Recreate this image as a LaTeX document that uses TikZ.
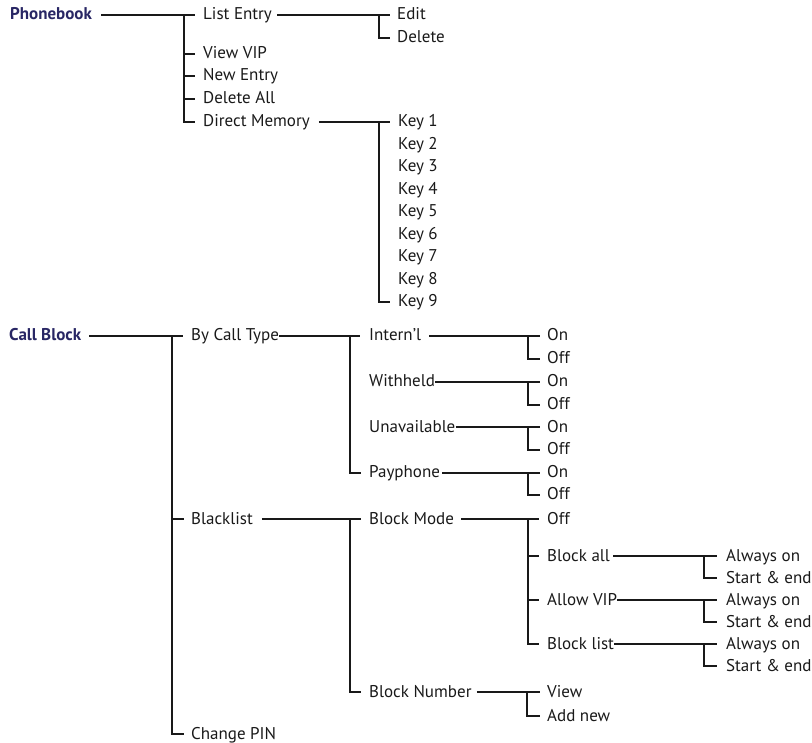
\documentclass[tikz,border=0pt]{standalone}
\usepackage{fontspec}
\setmainfont{PT Sans}
\definecolor{navy}{RGB}{40,38,100}
\definecolor{ink}{RGB}{25,25,25}
\begin{document}
\begin{tikzpicture}[x=1pt,y=-1pt,
 item/.style={anchor=west,inner sep=0pt,text height=13pt,text depth=3pt,font=\fontsize{17}{20}\selectfont,text=ink},
 head/.style={item,font=\fontsize{17}{20}\selectfont\bfseries,text=navy},
 conn/.style={draw=ink,line width=1.1pt}]
\useasboundingbox (0,0) rectangle (812,743);
% ---------- Phonebook ----------
\node[head] (pb) at (10,15) {Phonebook};
\node[item] (le) at (203,15) {List Entry};
\node[item] (vv) at (203,54) {View VIP};
\node[item] (ne) at (203,76) {New Entry};
\node[item] (da) at (203,99) {Delete All};
\node[item] (dm) at (203,122) {Direct Memory};
\node[item] (ed) at (397,15) {Edit};
\node[item] (de) at (397,38) {Delete};
\foreach \i in {1,...,9}{
  \node[item] (k\i) at (398,{122+22.5*(\i-1)}) {Key \i};
}
\draw[conn] ([xshift=9pt]pb.east) -- ([xshift=-8pt]le.west);
\draw[conn] ([xshift=-19pt]le.west) |- ([xshift=-8pt]dm.west);
\foreach \n in {vv,ne,da}{\draw[conn] ([xshift=-19pt]\n.west) -- ([xshift=-8pt]\n.west);}
\draw[conn] ([xshift=5pt]le.east) -- ([xshift=-7pt]ed.west);
\draw[conn] ([xshift=-18pt]ed.west) |- ([xshift=-7pt]de.west);
\draw[conn] ([xshift=9pt]dm.east) -- ([xshift=-8pt]k1.west);
\draw[conn] ([xshift=-19pt]k1.west) |- ([xshift=-8pt]k9.west);
% ---------- Call Block ----------
\node[head] (cb) at (9,336) {Call Block};
\node[item] (bct) at (191,336) {By Call Type};
\node[item] (bl) at (191,519) {Blacklist};
\node[item] (cp) at (191,734) {Change PIN};
\draw[conn] ([xshift=8pt]cb.east) -- ([xshift=-8pt]bct.west);
\draw[conn] ([xshift=-19pt]bct.west) |- ([xshift=-7pt]cp.west);
\draw[conn] ([xshift=-19pt]bl.west) -- ([xshift=-7pt]bl.west);
% By call type
\node[item] (in) at (369,336) {Intern’l};
\node[item] (wh) at (369,382) {Withheld};
\node[item] (un) at (369,427) {Unavailable};
\node[item] (pp) at (369,473) {Payphone};
\draw[conn] (bct.east) -- ([xshift=-9pt]in.west);
\draw[conn] ([xshift=-19pt]in.west) |- ([xshift=-8pt]pp.west);
\node[item] (on1) at (547,336) {On};
\node[item] (of1) at (547,359) {Off};
\node[item] (on2) at (547,382) {On};
\node[item] (of2) at (547,405) {Off};
\node[item] (on3) at (547,427) {On};
\node[item] (of3) at (547,450) {Off};
\node[item] (on4) at (547,473) {On};
\node[item] (of4) at (547,495) {Off};
\draw[conn] ([xshift=8pt]in.east) -- ([xshift=-7pt]on1.west);
\draw[conn] (wh.east) -- ([xshift=-7pt]on2.west);
\draw[conn] (un.east) -- ([xshift=-7pt]on3.west);
\draw[conn] ([xshift=2pt]pp.east) -- ([xshift=-7pt]on4.west);
\foreach \a/\b in {on1/of1,on2/of2,on3/of3,on4/of4}{
  \draw[conn] ([xshift=-19pt]\a.west) |- ([xshift=-7pt]\b.west);}
% Blacklist
\node[item] (bm) at (369,519) {Block Mode};
\node[item] (bn) at (369,692) {Block Number};
\draw[conn] ([xshift=9pt]bl.east) -- ([xshift=-8pt]bm.west);
\draw[conn] ([xshift=-19pt]bm.west) |- ([xshift=-8pt]bn.west);
\node[item] (bo) at (547,519) {Off};
\node[item] (ba) at (547,556) {Block all};
\node[item] (av) at (547,600) {Allow VIP};
\node[item] (bli) at (547,644) {Block list};
\draw[conn] ([xshift=7pt]bm.east) -- ([xshift=-8pt]bo.west);
\draw[conn] ([xshift=-19pt]bo.west) |- ([xshift=-8pt]bli.west);
\foreach \n in {ba,av}{\draw[conn] ([xshift=-19pt]\n.west) -- ([xshift=-8pt]\n.west);}
\node[item] (ao1) at (726,556) {Always on};
\node[item] (se1) at (726,578) {Start \& end};
\node[item] (ao2) at (726,600) {Always on};
\node[item] (se2) at (726,622) {Start \& end};
\node[item] (ao3) at (726,644) {Always on};
\node[item] (se3) at (726,666) {Start \& end};
\draw[conn] ([xshift=3pt]ba.east) -- ([xshift=-9pt]ao1.west);
\draw[conn] (av.east) -- ([xshift=-9pt]ao2.west);
\draw[conn] (bli.east) -- ([xshift=-9pt]ao3.west);
\foreach \a/\b in {ao1/se1,ao2/se2,ao3/se3}{
  \draw[conn] ([xshift=-22pt]\a.west) |- ([xshift=-9pt]\b.west);}
\node[item] (vw) at (547,692) {View};
\node[item] (an) at (547,716) {Add new};
\draw[conn] ([xshift=5pt]bn.east) -- ([xshift=-7pt]vw.west);
\draw[conn] ([xshift=-20pt]vw.west) |- ([xshift=-7pt]an.west);
\end{tikzpicture}
\end{document}
